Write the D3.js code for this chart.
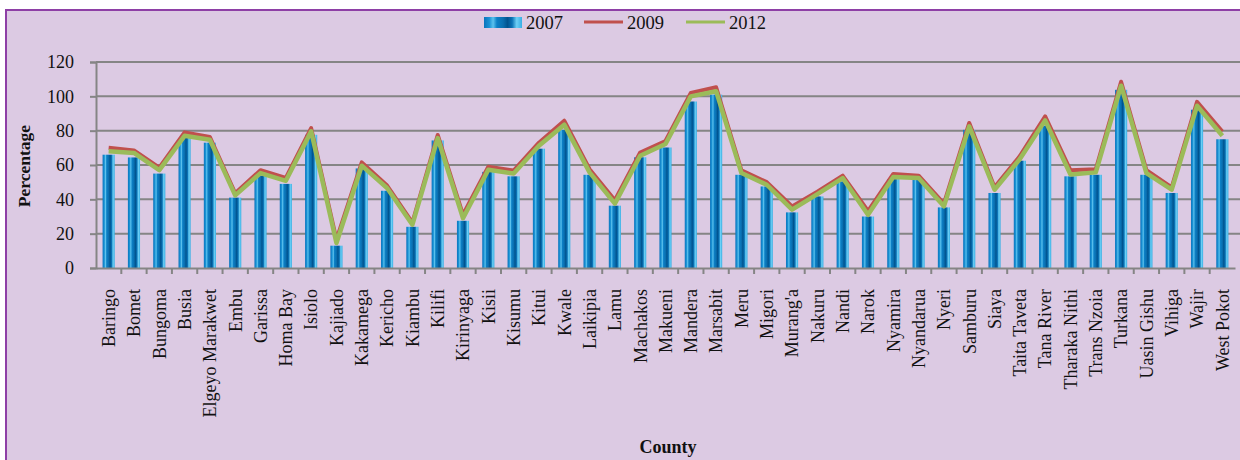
<!DOCTYPE html>
<html>
<head>
<meta charset="utf-8">
<script src="https://cdn.jsdelivr.net/npm/d3@7"></script>
<style>
  body { margin: 0; background: #fff; }
  svg { display: block; font-family: "Liberation Serif", "DejaVu Serif", serif; }
</style>
</head>
<body>
<svg id="chart" width="1240" height="460"></svg>
<script>
const counties = ['Baringo', 'Bomet', 'Bungoma', 'Busia', 'Elgeyo Marakwet', 'Embu', 'Garissa', 'Homa Bay',
  'Isiolo', 'Kajiado', 'Kakamega', 'Kericho', 'Kiambu', 'Kilifi', 'Kirinyaga', 'Kisii', 'Kisumu', 'Kitui',
  'Kwale', 'Laikipia', 'Lamu', 'Machakos', 'Makueni', 'Mandera', 'Marsabit', 'Meru', 'Migori', "Murang'a",
  'Nakuru', 'Nandi', 'Narok', 'Nyamira', 'Nyandarua', 'Nyeri', 'Samburu', 'Siaya', 'Taita Taveta',
  'Tana River', 'Tharaka Nithi', 'Trans Nzoia', 'Turkana', 'Uasin Gishu', 'Vihiga', 'Wajir', 'West Pokot']

const values2007 = [66, 64.4, 55, 75.7, 73, 41, 53.8, 49, 77.6, 13, 58, 45, 24, 74.3, 27.5, 56, 53.4, 69.5,
  80.5, 54.3, 36.3, 64.5, 70.2, 97, 101, 54.3, 47.5, 32.4, 41.7, 50.4, 30, 51.8, 51.4, 35.3, 80.5, 43.7,
  62.5, 82.9, 53.4, 54.3, 103.8, 54.3, 43.7, 92.2, 75]

const values2009 = [70, 68.5, 58.5, 79, 76.3, 43.5, 57, 52.5, 81.5, 16.5, 61.5, 48, 26.5, 77.5, 31, 59,
  56.8, 73, 85.8, 57.5, 39.5, 67.3, 74, 102, 105.3, 56.9, 50, 35.8, 44.5, 53.8, 33.2, 54.8, 53.8, 37.5,
  84.5, 47, 65.2, 88.3, 56.9, 57.5, 108.5, 57, 47, 96.8, 79.5]

const values2012 = [68, 67, 57, 77, 74.7, 42.3, 55.3, 50.8, 79.6, 14.6, 59.6, 46.6, 25.2, 75.7, 29, 57.2,
  55, 71.2, 83.5, 55.7, 37.5, 65.4, 72.2, 100, 103, 55.3, 48.5, 34, 43, 52.4, 31, 53, 52.4, 35.9, 82.5,
  45.6, 63.5, 86, 54.5, 55.7, 106.2, 55.3, 45.6, 94.5, 77]

const yTicks = [0, 20, 40, 60, 80, 100, 120]
const legendItems = ['2007', '2009', '2012']

const svg = d3.select('#chart')
const margin = { top: 62, left: 96, right: 5, bottom: 192 }
const width = 1240
const height = 460
const plotBottom = height - margin.bottom

// panel background + purple frame (runs off right and bottom edges)
svg.append('rect')
  .attr('x', 6).attr('y', 10)
  .attr('width', 1260).attr('height', 480)
  .attr('fill', '#dccae3')
  .attr('stroke', '#8e3fa6')
  .attr('stroke-width', 2)

const defs = svg.append('defs')
const grad = defs.append('linearGradient')
  .attr('id', 'barGrad')
  .attr('x1', '0%').attr('x2', '100%').attr('y1', '0%').attr('y2', '0%')
const stops = [
  [0, '#0a74bd'], [0.14, '#1a92d4'], [0.24, '#5cc2ee'], [0.34, '#0c80c6'],
  [0.5, '#0a6fb0'], [0.62, '#00538f'], [0.74, '#0a73b6'], [0.86, '#6dd0f6'], [1, '#38aee4']
]
stops.forEach(([o, c]) => grad.append('stop').attr('offset', o).attr('stop-color', c))

const x = d3.scaleBand()
  .domain(counties)
  .range([margin.left, width - margin.right])
  .paddingInner(0)
  .paddingOuter(0)

const y = d3.scaleLinear()
  .domain([0, 120])
  .range([plotBottom, margin.top])

// gridlines
svg.append('g')
  .selectAll('line')
  .data(yTicks.filter(d => d > 0))
  .enter()
  .append('line')
  .attr('x1', margin.left).attr('x2', width)
  .attr('y1', d => y(d)).attr('y2', d => y(d))
  .attr('stroke', '#858585')
  .attr('stroke-width', 2)

// bars (2007)
const barW = x.bandwidth() * 0.48
svg.append('g')
  .selectAll('rect')
  .data(values2007)
  .enter()
  .append('rect')
  .attr('x', (d, i) => x(counties[i]) + (x.bandwidth() - barW) / 2)
  .attr('y', d => y(d))
  .attr('width', barW)
  .attr('height', d => plotBottom - y(d))
  .attr('fill', 'url(#barGrad)')

// lines
const line = d3.line()
  .x((d, i) => x(counties[i]) + x.bandwidth() / 2)
  .y(d => y(d))

svg.append('path')
  .datum(values2009)
  .attr('d', line)
  .attr('fill', 'none')
  .attr('stroke', '#c0504d')
  .attr('stroke-width', 4)
  .attr('stroke-linejoin', 'round')

svg.append('path')
  .datum(values2012)
  .attr('d', line)
  .attr('fill', 'none')
  .attr('stroke', '#9bbb59')
  .attr('stroke-width', 4.5)
  .attr('stroke-linejoin', 'round')

// y axis
const yAxis = svg.append('g')
  .attr('transform', `translate(${margin.left},0)`)
  .call(d3.axisLeft(y).tickValues(yTicks).tickSize(6).tickPadding(16))
yAxis.select('.domain').attr('stroke', '#858585').attr('stroke-width', 2)
yAxis.selectAll('.tick line').attr('stroke', '#858585').attr('stroke-width', 2)
yAxis.selectAll('text')
  .attr('font-size', 18)
  .attr('font-family', '"Liberation Serif", serif')
  .attr('fill', '#111')

// x axis
const xAxis = svg.append('g')
  .attr('transform', `translate(0,${plotBottom})`)
  .call(d3.axisBottom(x).tickSize(0).tickPadding(0))
xAxis.select('.domain').attr('stroke', '#858585').attr('stroke-width', 2)
xAxis.selectAll('text')
  .attr('font-size', 18)
  .attr('font-family', '"Liberation Serif", serif')
  .attr('fill', '#111')
  .attr('text-anchor', 'end')
  .attr('dy', '0.35em')
  .attr('transform', 'translate(0,21) rotate(-90)')
  .attr('y', 0)
  .attr('x', 0)

// tick marks at band boundaries
svg.append('g')
  .selectAll('line')
  .data(counties.slice(1))
  .enter()
  .append('line')
  .attr('x1', d => x(d)).attr('x2', d => x(d))
  .attr('y1', plotBottom).attr('y2', plotBottom + 6)
  .attr('stroke', '#858585')
  .attr('stroke-width', 2)

// axis titles
svg.append('text')
  .attr('x', 668).attr('y', 453)
  .attr('text-anchor', 'middle')
  .attr('font-size', 18)
  .attr('font-weight', 'bold')
  .attr('fill', '#111')
  .text('County')

svg.append('text')
  .attr('transform', 'translate(30,166) rotate(-90)')
  .attr('text-anchor', 'middle')
  .attr('font-size', 17.5)
  .attr('font-weight', 'bold')
  .attr('fill', '#111')
  .text('Percentage')

// legend
const legend = svg.append('g').attr('class', 'legend')
const legendX = [484, 584, 686]
legendItems.forEach((name, i) => {
  const g = legend.append('g').attr('transform', `translate(${legendX[i]},22)`)
  if (i === 0) {
    g.append('rect')
      .attr('x', 0).attr('y', -5)
      .attr('width', 38).attr('height', 11)
      .attr('fill', 'url(#barGrad)')
  } else {
    g.append('line')
      .attr('x1', 0).attr('x2', 39)
      .attr('y1', 0).attr('y2', 0)
      .attr('stroke', i === 1 ? '#c0504d' : '#9bbb59')
      .attr('stroke-width', 3)
  }
  g.append('text')
    .attr('x', i === 0 ? 42 : 43)
    .attr('y', 7)
    .attr('font-size', 18.5)
    .attr('fill', '#111')
    .text(name)
})
</script>
</body>
</html>
